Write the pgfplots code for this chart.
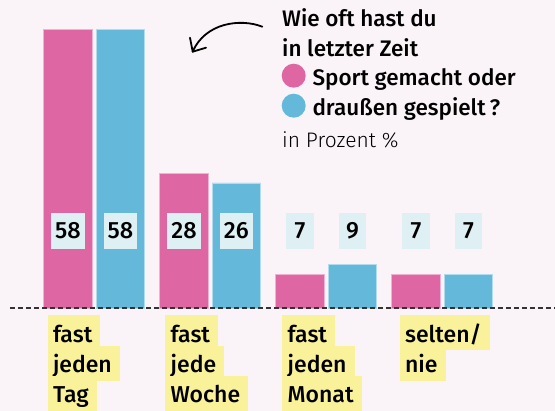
\documentclass[border=0pt]{standalone}
\usepackage{pgfplots}
\pgfplotsset{compat=1.18}
\usepackage{fontspec}
\setmainfont{Fira Sans}[UprightFont={* Medium}]
\newfontfamily\lightfont{Fira Sans}[UprightFont={* Light}]

\definecolor{bg}{HTML}{FAF4F8}
\definecolor{sport}{HTML}{DE67A3}
\definecolor{draussen}{HTML}{64B9DB}
\definecolor{valbox}{HTML}{DEF0F3}
\definecolor{hlyellow}{HTML}{F9F29B}

\setlength{\fboxsep}{0pt}
% one highlighted line of a category label
\newcommand\hl[1]{\hbox{\colorbox{hlyellow}{\hspace{5.5pt}\rule[-8pt]{0pt}{35pt}#1\hspace{8pt}}}}
\newcommand\catstack[1]{\vbox{\baselineskip=30.4pt\lineskiplimit=-100pt #1}}

\pgfplotsset{
  vallabel/.style={draw=none, mark=none, point meta=explicit symbolic,
    nodes near coords,
    every node near coord/.append style={anchor=center, fill=valbox, text=black,
      minimum height=36pt, minimum width=27.7pt, inner xsep=4pt, inner ysep=0pt,
      font=\fontsize{23.5}{24}\selectfont}},
}

\begin{document}
\begin{tikzpicture}
\fill[bg] (0pt,0pt) rectangle (555pt,411pt);

\begin{axis}[
  at={(10pt,103pt)}, anchor=south west,
  scale only axis, width=545pt, height=308pt,
  xmin=-0.7259, xmax=3.9724, ymin=0, ymax=64.03,
  hide axis, clip=false,
  bar width=48.5pt,
]
\addplot[ybar, bar shift=-26.2pt, fill=sport, draw=sport!50!white, line width=0.8pt]
  coordinates {(0,58) (1,28) (2,7) (3,7)};
\addplot[ybar, bar shift=26.2pt, fill=draussen, draw=draussen!50!white, line width=0.8pt]
  coordinates {(0,58) (1,26) (2,9) (3,7)};

% value labels
\addplot[vallabel, every node near coord/.append style={xshift=-26.2pt}]
  coordinates {(0,16) [58] (1,16) [28] (2,16) [7] (3,16) [7]};
\addplot[vallabel, every node near coord/.append style={xshift=26.2pt}]
  coordinates {(0,16) [58] (1,16) [26] (2,16) [9] (3,16) [7]};

\draw[black!80, line width=1.3pt, dash pattern=on 4.5pt off 3.5pt]
  (rel axis cs:0,0) -- (rel axis cs:1,0);

% category labels
\tikzset{catlabel/.style={anchor=north west, inner sep=0pt, yshift=-7pt,
  font=\fontsize{23}{30}\selectfont}}
\node[catlabel, xshift=-46.9pt] at (axis cs:0,0) {\catstack{\hl{fast}\hl{jeden}\hl{Tag}}};
\node[catlabel, xshift=-45.2pt] at (axis cs:1,0) {\catstack{\hl{fast}\hl{jede}\hl{Woche}}};
\node[catlabel, xshift=-44.2pt] at (axis cs:2,0) {\catstack{\hl{fast}\hl{jeden}\hl{Monat}}};
\node[catlabel, xshift=-42.8pt] at (axis cs:3,0) {\catstack{\hl{selten/}\hl{nie}}};
\end{axis}

% title and legend
\begin{scope}[every node/.style={anchor=base west, inner sep=0pt, font=\fontsize{22.5}{26}\selectfont}]
\node at (282pt,384pt) {Wie oft hast du};
\node at (282pt,354.5pt) {in letzter Zeit};
\node at (312.3pt,325pt) {Sport gemacht oder};
\node at (312.3pt,295.5pt) {draußen gespielt\,?};
\node[font=\lightfont\fontsize{21}{24}\selectfont] at (282pt,263.7pt) {in Prozent \%};
\end{scope}
\fill[sport] (293.7pt,335.3pt) circle (12pt);
\fill[draussen] (293.7pt,305.3pt) circle (12pt);

% arrow
\draw[line width=1.8pt, line cap=round, line join=round]
  (262.3pt,384.3pt) .. controls (240pt,393pt) and (205pt,388pt) .. (192.7pt,359.3pt);
\draw[line width=1.8pt, line cap=round, line join=round]
  (190pt,373.3pt) -- (192.7pt,359.3pt) -- (206pt,363.3pt);

\pgfresetboundingbox
\path (0pt,0pt) rectangle (555pt,411pt);
\end{tikzpicture}
\end{document}
